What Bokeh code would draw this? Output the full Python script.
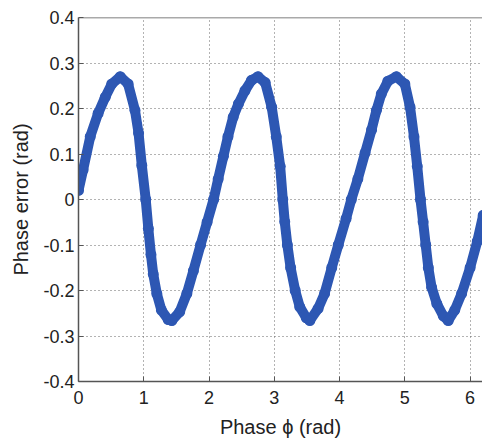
from bokeh.plotting import figure
from bokeh.models import ColumnDataSource, Range1d, FixedTicker, Span
from bokeh.embed import file_html
from bokeh.resources import INLINE

# Phase (rad) and phase error (rad)
phase = [0.0, 0.07, 0.18, 0.30, 0.41, 0.51, 0.64, 0.76, 0.865, 0.92, 0.97, 1.03,
         1.07, 1.11, 1.145, 1.20, 1.27, 1.375, 1.43, 1.55, 1.66, 1.76, 1.87, 1.97,
         2.07, 2.14, 2.22, 2.29, 2.37, 2.45, 2.55, 2.65, 2.75, 2.86, 2.96, 3.03,
         3.09, 3.13, 3.16, 3.20, 3.25, 3.32, 3.39, 3.49, 3.545, 3.67, 3.77, 3.88,
         3.98, 4.10, 4.18, 4.28, 4.39, 4.49, 4.565, 4.64, 4.74, 4.87, 5.00, 5.08,
         5.14, 5.19, 5.24, 5.28, 5.32, 5.36, 5.41, 5.49, 5.59, 5.665, 5.765, 5.87,
         6.00, 6.11, 6.20]
phase_error = [0.02, 0.065, 0.138, 0.189, 0.225, 0.254, 0.270, 0.254, 0.196, 0.146, 0.075, 0.0,
               -0.064, -0.121, -0.164, -0.207, -0.243, -0.264, -0.266, -0.247, -0.207, -0.157, -0.10, -0.05,
               0.0, 0.045, 0.095, 0.138, 0.181, 0.210, 0.239, 0.262, 0.270, 0.257, 0.203, 0.138,
               0.073, 0.0, -0.049, -0.10, -0.15, -0.20, -0.236, -0.260, -0.266, -0.240, -0.207, -0.15,
               -0.10, -0.042, 0.0, 0.045, 0.102, 0.153, 0.196, 0.232, 0.260, 0.270, 0.254, 0.203,
               0.138, 0.073, 0.0, -0.049, -0.10, -0.15, -0.193, -0.229, -0.256, -0.266, -0.243, -0.207,
               -0.15, -0.092, -0.035]

x_ticks = [0, 1, 2, 3, 4, 5, 6]
y_ticks = [-0.4, -0.3, -0.2, -0.1, 0, 0.1, 0.2, 0.3, 0.4]
y_tick_labels = {-0.4: "-0.4", -0.3: "-0.3", -0.2: "-0.2", -0.1: "-0.1", 0: "0",
                 0.1: "0.1", 0.2: "0.2", 0.3: "0.3", 0.4: "0.4"}

src = ColumnDataSource(data=dict(x=phase, y=phase_error))

p = figure(width=482, height=440, output_backend="svg", toolbar_location=None,
           x_range=Range1d(0, 6.19), y_range=Range1d(-0.4, 0.4),
           min_border_left=78, min_border_right=0, min_border_top=17, min_border_bottom=56)
p.outline_line_color = None
p.background_fill_color = "white"
p.border_fill_color = "white"

blue = "#2D57B3"
p.line("x", "y", source=src, line_color=blue, line_width=10, line_join="round", line_cap="round")
p.scatter("x", "y", source=src, size=11, fill_color=blue, line_color=None)

top = Span(location=0.4, dimension="width", line_color="#555555", line_width=1.5)
p.add_layout(top)

p.xaxis.ticker = FixedTicker(ticks=x_ticks)
p.yaxis.ticker = FixedTicker(ticks=y_ticks)
p.yaxis.major_label_overrides = y_tick_labels
p.xaxis.axis_label = "Phase \u03d5 (rad)"
p.yaxis.axis_label = "Phase error (rad)"

for ax in (p.xaxis[0], p.yaxis[0]):
    ax.axis_line_color = "#555555"
    ax.axis_line_width = 1.5
    ax.major_tick_line_color = "#555555"
    ax.major_tick_in = 5
    ax.major_tick_out = 0
    ax.minor_tick_line_color = None
    ax.major_label_text_font = "Liberation Sans"
    ax.major_label_text_font_size = "18px"
    ax.major_label_text_color = "#222222"
    ax.axis_label_text_font = "Liberation Sans"
    ax.axis_label_text_font_style = "normal"
    ax.axis_label_text_color = "#222222"
    ax.axis_label_text_font_size = "20px"
p.xaxis.major_label_standoff = 9
p.yaxis.major_label_standoff = 4
p.xaxis.axis_label_standoff = 9
p.yaxis.axis_label_standoff = 8

p.grid.grid_line_color = "#666666"
p.grid.grid_line_dash = "1 3"
p.grid.grid_line_width = 1

open("out.html", "w").write(file_html(p, INLINE))
